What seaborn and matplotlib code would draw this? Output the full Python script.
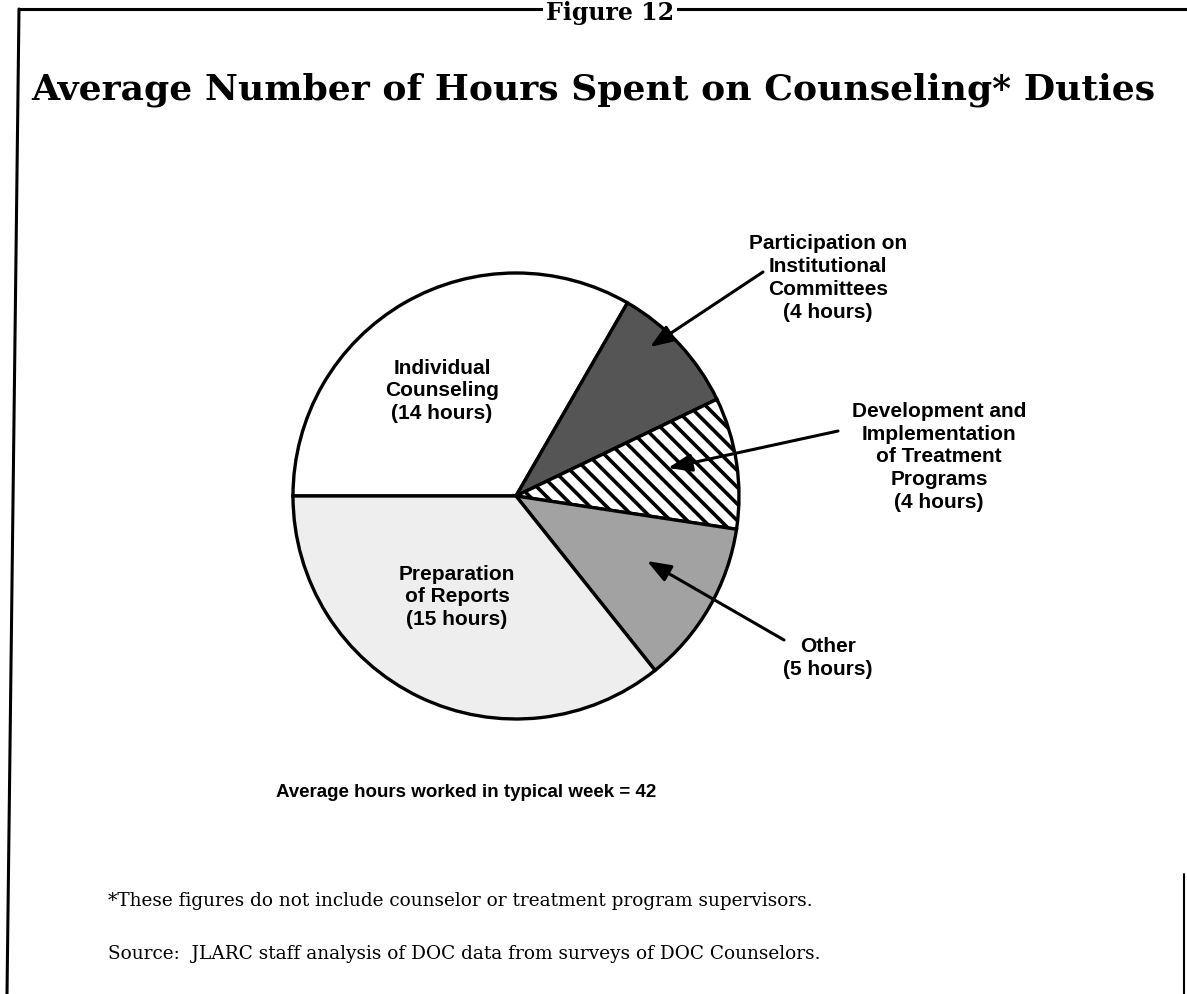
import numpy as np
import matplotlib
matplotlib.use("Agg")
import matplotlib.pyplot as plt
import seaborn as sns
from matplotlib.lines import Line2D

# ---- data ----
categories = ["Individual Counseling", "Participation on Institutional Committees",
              "Development and Implementation of Treatment Programs", "Other",
              "Preparation of Reports"]
hours = [14, 4, 4, 5, 15]
labels = ["Individual\nCounseling\n(14 hours)",
          "Participation on\nInstitutional\nCommittees\n(4 hours)",
          "Development and\nImplementation\nof Treatment\nPrograms\n(4 hours)",
          "Other\n(5 hours)",
          "Preparation\nof Reports\n(15 hours)"]
total_hours = 42

sns.set_theme(style="white")
plt.rcParams["hatch.linewidth"] = 2.6
plt.rcParams["hatch.color"] = "black"
plt.rcParams["text.color"] = "black"

serif = ["DejaVu Serif"]
sans = ["Liberation Sans Narrow", "Liberation Sans", "DejaVu Sans"]

W, H = 1187, 995
fig = plt.figure(figsize=(W / 100, H / 100), dpi=100)
fig.patch.set_facecolor("white")

def fx(px):
    return px / W

def fy(py):
    return 1 - py / H

# pie axes: center (516, 497), radius 223 px
cx, cy, r = 516, 497, 223
ax = fig.add_axes([fx(cx - r), fy(cy + r), 2 * r / W, 2 * r / H])
ax.set_aspect("equal")

def d(px, py):
    """pixel position on the page -> pie data coordinates"""
    return ((px - cx) / r, (cy - py) / r)

faces = ["white", "#555555", "white", "#a2a2a2", "#eeeeee"]
hatches = [None, None, "\\\\", None, None]
wedges, _ = ax.pie(hours, startangle=180, counterclock=False, radius=1,
                   colors=faces,
                   wedgeprops=dict(edgecolor="black", linewidth=2.4))
for w, h in zip(wedges, hatches):
    if h:
        w.set_hatch(h)
ax.set_xlim(-1, 1)
ax.set_ylim(-1, 1)
ax.axis("off")

lab_kw = dict(fontsize=15, fontweight="bold", family=sans, ha="center",
              va="center", linespacing=1.25, color="black")

# inside labels
ax.text(*d(442, 391), labels[0], **lab_kw)
ax.text(*d(457, 597), labels[4], **lab_kw)

# outside labels with arrows (text center, arrow start, arrow tip)
outside = [(1, (828, 278), (763, 273), (650, 348)),
           (2, (939, 457), (838, 432), (668, 469)),
           (3, (828, 658), (784, 641), (647, 562))]
for idx, tpos, start, tip in outside:
    ax.text(*d(*tpos), labels[idx], clip_on=False, **lab_kw)
    ax.annotate("", xy=d(*tip), xytext=d(*start), xycoords="data",
                textcoords="data", annotation_clip=False,
                arrowprops=dict(arrowstyle="-|>,head_length=1.2,head_width=0.45",
                                color="black", lw=2.2, shrinkA=0, shrinkB=0))

# titles and notes
fig.text(fx(610), fy(13), "Figure 12", family=serif, fontweight="bold",
         fontsize=17, ha="center", va="center", color="black",
         bbox=dict(facecolor="white", edgecolor="none", pad=2))
fig.text(fx(593), fy(90), "Average Number of Hours Spent on Counseling* Duties",
         family=serif, fontweight="bold", fontsize=26, ha="center", va="center",
         color="black")
fig.text(fx(466), fy(793), f"Average hours worked in typical week = {total_hours}",
         family=sans, fontweight="bold", fontsize=13.5, ha="center", va="center",
         color="black")
fig.text(fx(108), fy(901),
         "*These figures do not include counselor or treatment program supervisors.",
         family=serif, fontsize=13.3, ha="left", va="center", color="black")
fig.text(fx(108), fy(954),
         "Source:  JLARC staff analysis of DOC data from surveys of DOC Counselors.",
         family=serif, fontsize=13.3, ha="left", va="center", color="black")

# frame lines
fig.add_artist(Line2D([fx(19), fx(1187)], [fy(10), fy(10)], color="black",
                      lw=2.2, zorder=0))
fig.add_artist(Line2D([fx(19), fx(7)], [fy(10), fy(995)], color="black", lw=2.2))
fig.add_artist(Line2D([fx(1184), fx(1184)], [fy(875), fy(995)], color="black", lw=1.5))

fig.savefig("out.png", dpi=100, facecolor="white")
